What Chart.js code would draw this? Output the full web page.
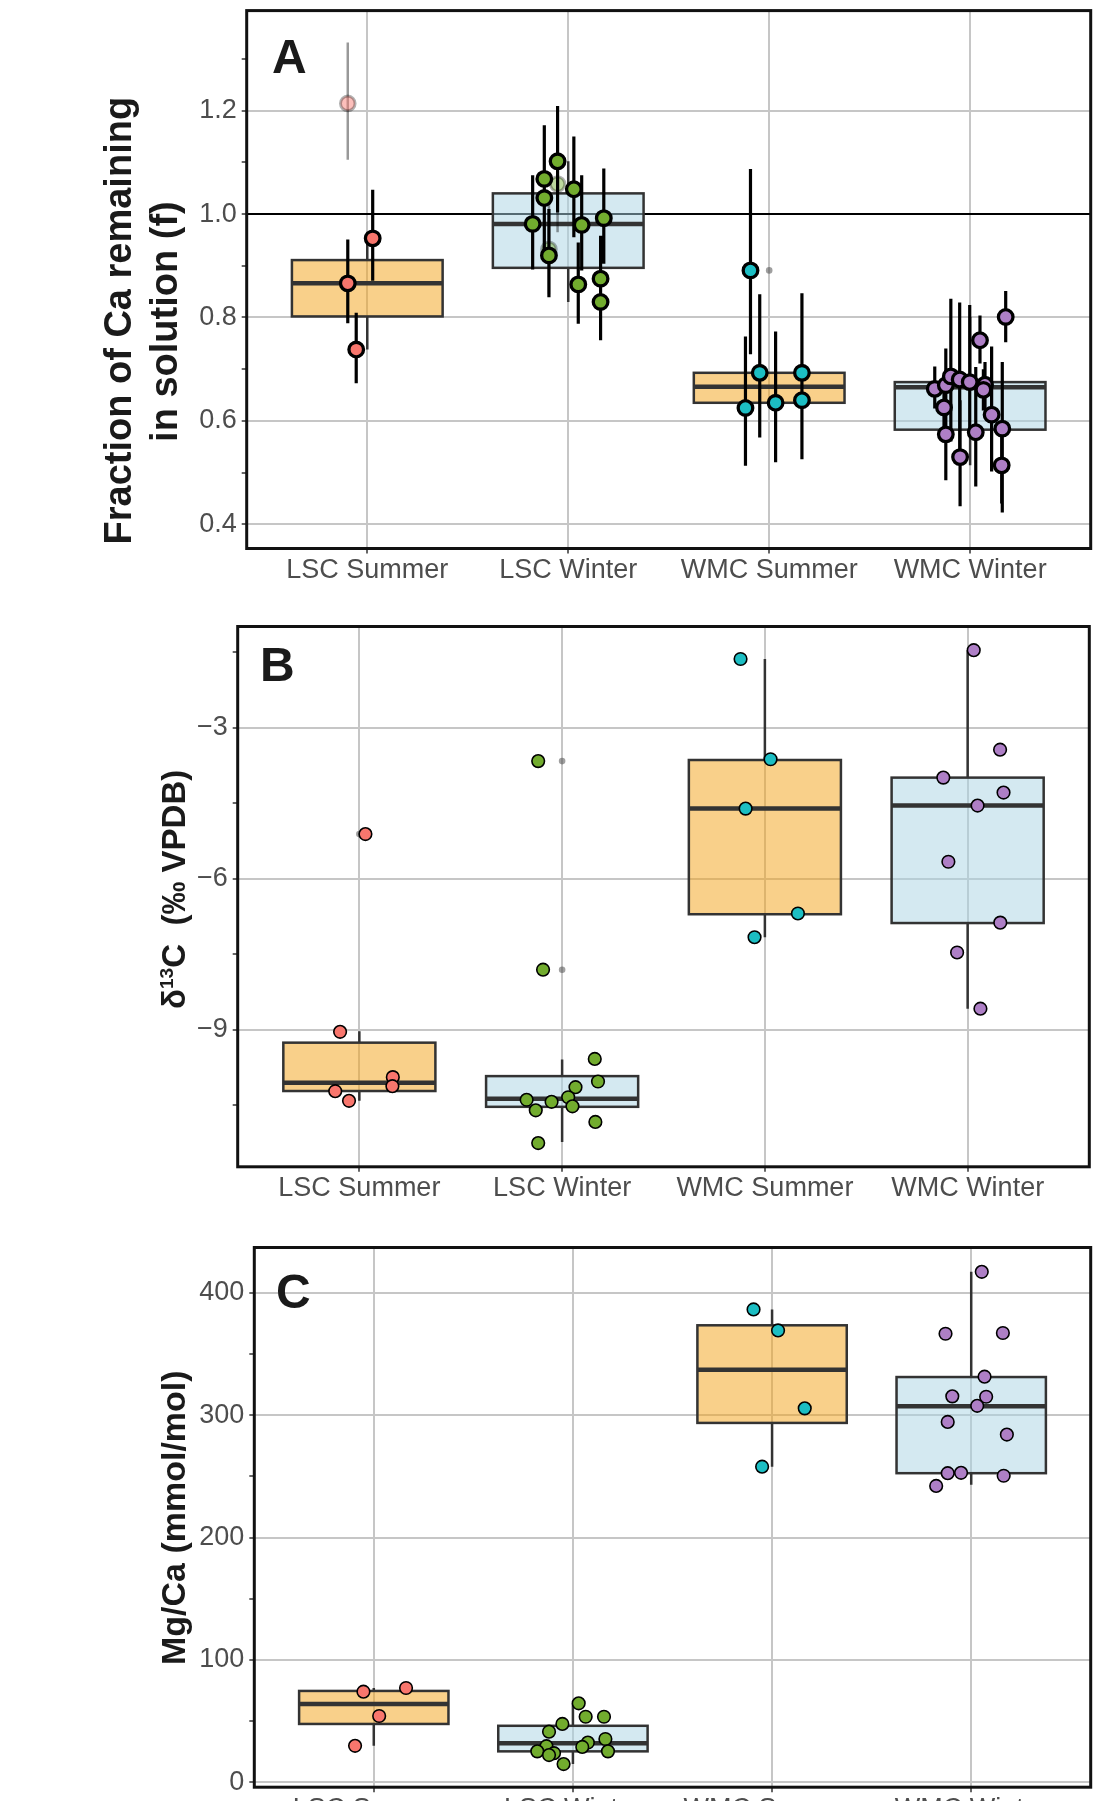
<!DOCTYPE html>
<html>
<head>
<meta charset="utf-8">
<script src="https://cdn.jsdelivr.net/npm/chart.js@4.4.1/dist/chart.umd.min.js"></script>
<style>
  html, body { margin: 0; padding: 0; background: #fff; overflow: hidden; }
  body { width: 1111px; height: 1801px; position: relative; }
  canvas { position: absolute; left: 0; }
</style>
</head>
<body>
<canvas id="chartA" width="1111" height="600" style="top:0px"></canvas>
<canvas id="chartB" width="1111" height="620" style="top:600px"></canvas>
<canvas id="chartC" width="1111" height="620" style="top:1220px"></canvas>
<script>
const categories = ["LSC Summer", "LSC Winter", "WMC Summer", "WMC Winter"];
const pointColors = ["#F8766D", "#72AC2E", "#1CBEC3", "#AE7FC6"];
const boxFills = ["rgba(243,161,21,0.5)", "rgba(169,211,227,0.5)", "rgba(243,161,21,0.5)", "rgba(169,211,227,0.5)"];

// A - fraction of Ca remaining in solution (f), points with error bars
const fracX = [
  [0.903, 1.027, 0.945],
  [1.823, 1.881, 1.881, 1.947, 1.904, 2.028, 2.067, 2.177, 2.050, 2.161, 2.161],
  [2.907, 2.953, 2.882, 3.032, 3.163, 3.163],
  [3.824, 3.879, 3.904, 3.948, 3.998, 4.074, 4.066, 3.870, 3.879, 3.950, 4.028, 4.049, 4.107, 4.160, 4.157, 4.177]
];
const fracY = [
  [0.866, 0.953, 0.738],
  [0.981, 1.068, 1.031, 1.102, 0.920, 1.048, 0.979, 0.992, 0.864, 0.875, 0.830],
  [0.891, 0.693, 0.625, 0.635, 0.693, 0.640],
  [0.662, 0.669, 0.686, 0.680, 0.675, 0.670, 0.660, 0.626, 0.574, 0.530, 0.578, 0.756, 0.612, 0.585, 0.514, 0.801]
];
const fracErrLo = [
  [0.789, 0.871, 0.673],
  [0.893, 0.975, 0.929, 1.003, 0.839, 0.955, 0.891, 0.904, 0.788, 0.795, 0.756],
  [0.729, 0.568, 0.513, 0.520, 0.600, 0.526],
  [0.624, 0.600, 0.560, 0.540, 0.580, 0.620, 0.620, 0.580, 0.485, 0.435, 0.473, 0.711, 0.502, 0.423, 0.440, 0.752]
];
const fracErrHi = [
  [0.951, 1.047, 0.809],
  [1.075, 1.172, 1.120, 1.209, 1.010, 1.150, 1.075, 1.088, 0.945, 0.958, 0.910],
  [1.087, 0.845, 0.763, 0.773, 0.847, 0.760],
  [0.705, 0.740, 0.836, 0.829, 0.824, 0.714, 0.700, 0.680, 0.640, 0.640, 0.704, 0.804, 0.744, 0.714, 0.600, 0.851]
];
// excluded (faded) samples
const fracFadedCat = [0, 1, 1];
const fracFadedX = [0.903, 1.947, 1.904];
const fracFadedY = [1.214, 1.058, 0.932];
const fracFadedLo = [1.105, 0.965, 0.845];
const fracFadedHi = [1.332, 1.150, 1.020];
const fracQ1 = [0.802, 0.896, 0.635, 0.583];
const fracMed = [0.866, 0.981, 0.666, 0.665];
const fracQ3 = [0.911, 1.040, 0.693, 0.675];
const fracWhiskLo = [0.738, 0.830, 0.625, 0.514];
const fracWhiskHi = [0.953, 1.102, 0.693, 0.801];
const fracOutliers = [[], [], [0.891], []];
const fracRefLine = 1.0;
const fracMajor = [0.4, 0.6, 0.8, 1.0, 1.2];
const fracMinor = [0.5, 0.7, 0.9, 1.1, 1.3];

// B - d13C (permil VPDB)
const d13X = [
  [1.030, 0.905, 1.165, 1.163, 0.881, 0.949],
  [1.882, 1.906, 2.161, 2.177, 2.066, 1.825, 1.948, 2.030, 1.870, 2.051, 2.164, 1.882],
  [2.880, 3.028, 2.905, 3.163, 2.949],
  [4.030, 4.160, 3.880, 4.177, 4.049, 3.905, 4.161, 3.948, 4.063]
];
const d13Y = [
  [-5.11, -9.04, -9.94, -10.12, -10.22, -10.41],
  [-3.66, -7.805, -9.578, -10.027, -10.14, -10.39, -10.43, -10.34, -10.60, -10.52, -10.83, -11.25],
  [-1.631, -3.623, -4.604, -6.688, -7.16],
  [-1.456, -3.433, -3.988, -4.285, -4.543, -5.66, -6.87, -7.463, -8.58]
];
const d13Q1 = [-10.216, -10.53, -6.703, -6.878];
const d13Med = [-10.05, -10.37, -4.604, -4.543];
const d13Q3 = [-9.255, -9.92, -3.638, -3.988];
const d13WhiskLo = [-10.41, -11.23, -7.16, -8.58];
const d13WhiskHi = [-9.03, -9.59, -1.631, -1.456];
const d13Outliers = [[-5.11], [-3.66, -7.805], [], []];
const d13Major = [-9, -6, -3];
const d13Minor = [-10.5, -7.5, -4.5, -1.5];

// C - Mg/Ca (mmol/mol)
const mgX = [
  [0.948, 1.162, 1.027, 0.906],
  [2.029, 2.064, 2.156, 1.947, 1.880, 2.075, 2.163, 1.867, 2.047, 1.821, 1.905, 1.880, 2.176, 1.953],
  [2.907, 3.030, 3.164, 2.950],
  [4.053, 3.871, 4.159, 4.067, 3.905, 4.075, 4.030, 3.882, 4.179, 3.882, 3.949, 4.163, 3.824]
];
const mgY = [
  [74.1, 77.1, 54.2, 29.8],
  [64.6, 53.6, 53.6, 47.7, 41.4, 32.5, 35.4, 29.5, 28.9, 25.3, 23.8, 22.3, 25.3, 14.9],
  [386.6, 369.4, 305.7, 258.0],
  [417.3, 366.7, 367.3, 331.6, 315.5, 315.2, 307.8, 294.6, 284.3, 252.7, 253.0, 250.6, 242.3]
];
const mgQ1 = [47.7, 25.3, 293.8, 252.7];
const mgMed = [64.0, 31.9, 337.2, 307.5];
const mgQ3 = [74.7, 46.2, 373.6, 331.3];
const mgWhiskLo = [29.8, 14.9, 258.0, 243.2];
const mgWhiskHi = [77.1, 64.6, 386.6, 417.3];
const mgOutliers = [[], [], [], []];
const mgMajor = [0, 100, 200, 300, 400];
const mgMinor = [50, 150, 250, 350];

const FONT = "'Liberation Sans', Arial, Helvetica, sans-serif";
Chart.defaults.font.family = FONT;
const BOX_HALF = 0.375;

function near(list, v) { return list.some(m => Math.abs(m - v) < 1e-6); }

function errorBarData(xs, lo, hi) {
  const out = [];
  xs.forEach((x, i) => { out.push({x, y: lo[i]}, {x, y: hi[i]}, {x, y: null}); });
  return out;
}

// box plot, frame and panel texts, placed through the chart's own scales
function decorPlugin(p) {
  return {
    id: 'decor' + p.letter,
    beforeDatasetsDraw(chart) {
      const {ctx, chartArea, scales: {x, y}} = chart;
      ctx.save();
      if (p.refLine !== undefined) {
        ctx.strokeStyle = '#000';
        ctx.lineWidth = 2;
        ctx.beginPath();
        ctx.moveTo(chartArea.left, y.getPixelForValue(p.refLine));
        ctx.lineTo(chartArea.right, y.getPixelForValue(p.refLine));
        ctx.stroke();
      }
      p.q1.forEach((q1, k) => {
        const xc = x.getPixelForValue(k + 1);
        const x1 = x.getPixelForValue(k + 1 - BOX_HALF), x2 = x.getPixelForValue(k + 1 + BOX_HALF);
        const y1 = y.getPixelForValue(q1), y3 = y.getPixelForValue(p.q3[k]);
        ctx.strokeStyle = '#333';
        ctx.lineWidth = 2.5;
        ctx.beginPath();
        ctx.moveTo(xc, y3); ctx.lineTo(xc, y.getPixelForValue(p.whiskHi[k]));
        ctx.moveTo(xc, y1); ctx.lineTo(xc, y.getPixelForValue(p.whiskLo[k]));
        ctx.stroke();
        ctx.fillStyle = boxFills[k];
        ctx.fillRect(x1, y3, x2 - x1, y1 - y3);
        ctx.strokeRect(x1, y3, x2 - x1, y1 - y3);
        ctx.lineWidth = 4.5;
        const ym = y.getPixelForValue(p.med[k]);
        ctx.beginPath();
        ctx.moveTo(x1, ym); ctx.lineTo(x2, ym);
        ctx.stroke();
      });
      ctx.restore();
    },
    afterDraw(chart) {
      const {ctx, chartArea} = chart;
      ctx.save();
      ctx.strokeStyle = '#111';
      ctx.lineWidth = 3;
      ctx.strokeRect(chartArea.left, chartArea.top, chartArea.right - chartArea.left, chartArea.bottom - chartArea.top);
      ctx.fillStyle = '#1a1a1a';
      ctx.font = 'bold 48px ' + FONT;
      ctx.textAlign = 'left';
      ctx.textBaseline = 'alphabetic';
      ctx.fillText(p.letter, p.letterPos[0], p.letterPos[1]);
      // rotated y-axis title, segments allow a superscript
      p.title.forEach(line => {
        ctx.save();
        ctx.translate(line.baseX, line.cy);
        ctx.rotate(-Math.PI / 2);
        ctx.textBaseline = 'alphabetic';
        ctx.textAlign = 'left';
        let total = 0;
        line.segs.forEach(s => { ctx.font = 'bold ' + (p.titleSize * s[1]) + 'px ' + FONT; total += ctx.measureText(s[0]).width; });
        let cx = -total / 2;
        line.segs.forEach(s => {
          ctx.font = 'bold ' + (p.titleSize * s[1]) + 'px ' + FONT;
          ctx.fillText(s[0], cx, s[2] * p.titleSize);
          cx += ctx.measureText(s[0]).width;
        });
        ctx.restore();
      });
      ctx.restore();
    }
  };
}

function buildChart(id, p) {
  const datasets = [];
  datasets.push({
    data: p.outliers.flatMap((vals, k) => vals.map(v => ({x: k + 1, y: v}))),
    pointRadius: 3.3, backgroundColor: 'rgba(80,80,80,0.55)', borderWidth: 0, order: 9
  });
  if (p.fadedX) {
    datasets.push({
      data: errorBarData(p.fadedX, p.fadedLo, p.fadedHi), showLine: true, spanGaps: false,
      borderColor: 'rgba(0,0,0,0.4)', borderWidth: 2.5, pointRadius: 0, order: 8
    });
    datasets.push({
      data: p.fadedX.map((x, i) => ({x, y: p.fadedY[i]})),
      backgroundColor: p.fadedCat.map(k => pointColors[k] + '77'),
      borderColor: 'rgba(0,0,0,0.3)', borderWidth: 3, pointRadius: p.pointRadius, order: 7
    });
  }
  if (p.errLo) {
    datasets.push({
      data: p.x.flatMap((xs, k) => errorBarData(xs, p.errLo[k], p.errHi[k])), showLine: true, spanGaps: false,
      borderColor: '#000', borderWidth: 3.2, pointRadius: 0, order: 5
    });
  }
  p.x.forEach((xs, k) => {
    datasets.push({
      label: categories[k],
      data: xs.map((x, i) => ({x, y: p.y[k][i]})),
      backgroundColor: pointColors[k], borderColor: '#000',
      borderWidth: p.pointBorder, pointRadius: p.pointRadius, order: 1
    });
  });
  const ticksAll = p.major.concat(p.minor).sort((a, b) => a - b);
  return new Chart(id, {
    type: 'scatter',
    data: { datasets },
    options: {
      responsive: false, animation: false, devicePixelRatio: 1, events: [],
      layout: { padding: { top: p.padTop, right: p.padRight, left: 0, bottom: 0 } },
      plugins: { legend: { display: false }, tooltip: { enabled: false } },
      scales: {
        x: {
          type: 'linear', min: 0.4, max: 4.6,
          afterBuildTicks: s => { s.ticks = categories.map((c, i) => ({value: i + 1})); },
          afterFit: s => { s.height = p.xHeight; s.paddingLeft = 0; s.paddingRight = 0; },
          border: { display: false },
          grid: { color: '#c6c6c6', lineWidth: 2, tickLength: 5, tickColor: '#333', tickWidth: 1.5 },
          ticks: { autoSkip: false, maxRotation: 0, padding: 1, color: '#4d4d4d', font: { size: 27 },
                   callback: v => categories[Math.round(v) - 1] }
        },
        y: {
          min: p.yMin, max: p.yMax,
          afterBuildTicks: s => { s.ticks = ticksAll.map(v => ({value: v})); },
          afterFit: s => { s.width = p.yWidth; s.paddingTop = 0; s.paddingBottom = 0; },
          border: { display: false },
          grid: { color: c => near(p.major, c.tick.value) ? '#c6c6c6' : 'rgba(0,0,0,0)',
                  lineWidth: 2, tickLength: 5, tickColor: '#333', tickWidth: 1.5 },
          ticks: { autoSkip: false, padding: 5, color: '#4d4d4d', font: { size: 27 },
                   callback: v => near(p.major, v) ? p.fmt(v) : '' }
        }
      }
    },
    plugins: [decorPlugin(p)]
  });
}

buildChart('chartA', {
  letter: 'A', letterPos: [272, 73.4],
  x: fracX, y: fracY, errLo: fracErrLo, errHi: fracErrHi,
  fadedCat: fracFadedCat, fadedX: fracFadedX, fadedY: fracFadedY, fadedLo: fracFadedLo, fadedHi: fracFadedHi,
  q1: fracQ1, med: fracMed, q3: fracQ3, whiskLo: fracWhiskLo, whiskHi: fracWhiskHi,
  outliers: fracOutliers, refLine: fracRefLine,
  major: fracMajor, minor: fracMinor, fmt: v => v.toFixed(1),
  yMin: 0.3532, yMax: 1.3935,
  padTop: 9.4, padRight: 20.3, yWidth: 246.7, xHeight: 51.5,
  pointRadius: 7.3, pointBorder: 3.3,
  titleSize: 38,
  title: [
    { baseX: 130.7, cy: 320.7, segs: [["Fraction of Ca remaining", 1, 0]] },
    { baseX: 177.3, cy: 321.6, segs: [["in solution (f)", 1, 0]] }
  ]
});

buildChart('chartB', {
  letter: 'B', letterPos: [260, 80.8],
  x: d13X, y: d13Y,
  q1: d13Q1, med: d13Med, q3: d13Q3, whiskLo: d13WhiskLo, whiskHi: d13WhiskHi,
  outliers: d13Outliers,
  major: d13Major, minor: d13Minor, fmt: v => (v < 0 ? '\u2212' : '') + Math.abs(v),
  yMin: -11.722, yMax: -0.985,
  padTop: 26.5, padRight: 21.7, yWidth: 237.7, xHeight: 53.2,
  pointRadius: 6.3, pointBorder: 1.6,
  titleSize: 33,
  title: [
    { baseX: 185, cy: 289.4, segs: [["δ", 1, 0], ["13", 0.58, -0.36], ["C  (‰ VPDB)", 1, 0]] }
  ]
});

buildChart('chartC', {
  letter: 'C', letterPos: [276, 88.3],
  x: mgX, y: mgY,
  q1: mgQ1, med: mgMed, q3: mgQ3, whiskLo: mgWhiskLo, whiskHi: mgWhiskHi,
  outliers: mgOutliers,
  major: mgMajor, minor: mgMinor, fmt: v => String(v),
  yMin: -4, yMax: 437.2,
  padTop: 27.5, padRight: 20.3, yWidth: 254.3, xHeight: 52.8,
  pointRadius: 6.3, pointBorder: 1.6,
  titleSize: 34,
  title: [
    { baseX: 185, cy: 297.7, segs: [["Mg/Ca (mmol/mol)", 1, 0]] }
  ]
});
</script>
</body>
</html>
